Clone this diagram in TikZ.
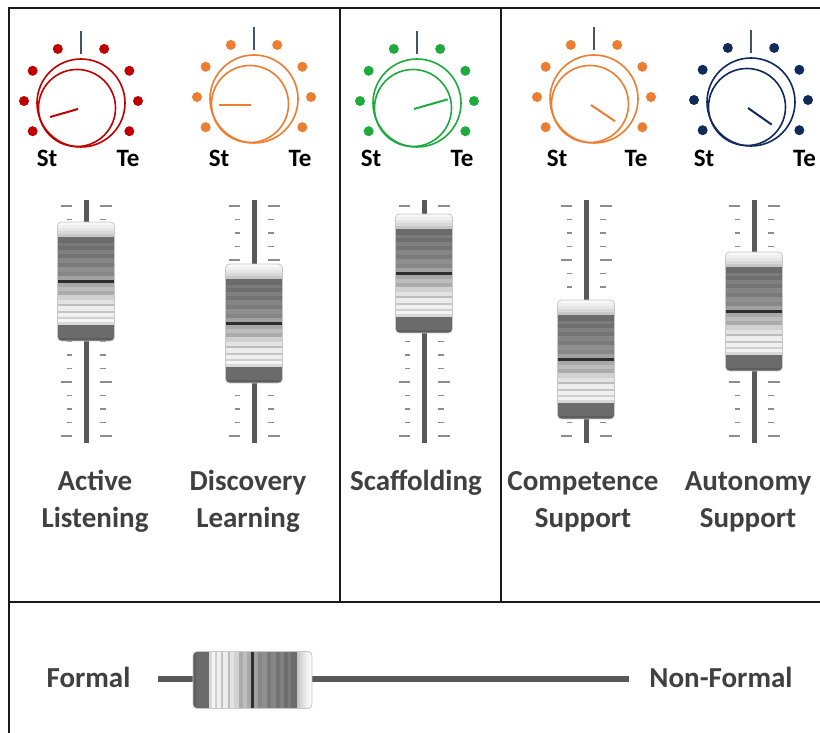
\documentclass[tikz,border=0pt]{standalone}
\usepackage{fontspec}
\setmainfont{Carlito}
\definecolor{knobred}{HTML}{C00000}
\definecolor{knoborange}{HTML}{ED7D31}
\definecolor{knobgreen}{HTML}{1DAA3F}
\definecolor{knobnavy}{HTML}{112A5C}
\definecolor{marker}{HTML}{44546A}
\definecolor{labelgray}{HTML}{404040}
\definecolor{trackgray}{HTML}{595959}
\definecolor{tickgray}{HTML}{8C8C8C}
\definecolor{framegray}{HTML}{1A1A1A}

\tikzset{
  frame/.style={draw=framegray, line width=2},
  track/.style={draw=trackgray, line width=5},
  fadertick/.style={draw=tickgray, line width=1.5},
  lbl/.style={font=\bfseries\fontsize{29}{37}\selectfont, text=labelgray,
    align=center, inner sep=0, anchor=base},
  knoblbl/.style={font=\bfseries\fontsize{25}{30}\selectfont, text=black,
    inner sep=0, anchor=base},
}

% rotary knob: colour, centre x, centre y, pointer angle, pointer length
\newcommand\drawknob[5]{%
  \begin{scope}[shift={(#2,#3)}]
    \foreach \a in {0,32,66,114,148,180,212,328}
      \fill[#1] (-\a:57) circle (5);
    \draw[marker, line width=2] (0,-47) -- (0,-70);
    \draw[#1, line width=1.6] (0,2) circle (44);
    \draw[#1, line width=1.6] (-4,7) circle (38.5);
    \draw[#1, line width=2] (-3,8) -- ++(-#4:#5);
  \end{scope}}

% striped fader cap, drawn from its top end downwards (local frame)
\newcommand\fadercap[1]{%
  \begin{scope}[#1]
    \begin{scope}
      \clip[rounded corners=4] (-28.5,0) rectangle (28.5,119);
      \foreach \s/\e/\c in {
          0/3/3, 3/6/6, 6/9/10, 9/12/15, 12/15/22,
          15/21/58, 21/24/52, 24/28/57, 28/32/50, 32/36/55, 36/41/48,
          41/45/52, 45/50/44, 50/54/47, 54/58/37, 58/61/82,
          61/65/34, 65/69/26, 69/73/33, 73/78/18, 78/82/11, 82/84/26,
          84/89/7, 89/91/23, 91/95/6, 95/97/19, 97/100/4, 100/103/15,
          103/116/58, 116/119/63}
        \fill[black!\c] (-28.5,\s) rectangle (28.5,\e);
    \end{scope}
    \draw[black!22, line width=0.8, rounded corners=4] (-28.5,0) rectangle (28.5,119);
  \end{scope}}

% scale ticks on both sides of a vertical fader track at x = #1
\newcommand\faderticks[1]{%
  \foreach \k in {1,2,3,5,6,7,8,9,10,11,12,14,15,16} {
    \draw[fadertick] (#1-19,206+13.53*\k) -- (#1-14,206+13.53*\k);
    \draw[fadertick] (#1+14,206+13.53*\k) -- (#1+20,206+13.53*\k);
  }
  \foreach \k in {0,4,13,17} {
    \draw[fadertick] (#1-25,206+13.53*\k) -- (#1-14,206+13.53*\k);
    \draw[fadertick] (#1+14,206+13.53*\k) -- (#1+26,206+13.53*\k);
  }}

% vertical fader: track x, cap top y
\newcommand\drawfader[2]{%
  \faderticks{#1}
  \draw[track] (#1,200) -- (#1,443);
  \fadercap{shift={(#1,#2)}}}

\begin{document}
\begin{tikzpicture}[x=1pt, y=-1pt]
  \useasboundingbox (0,0) rectangle (820,733);
  \fill[white] (0,0) rectangle (820,733);

  % panel frame
  \draw[frame] (820,8) -- (9,8) -- (9,733);
  \draw[frame] (9,602) -- (820,602);
  \draw[frame] (340,8) -- (340,602);
  \draw[frame] (501,8) -- (501,602);

  % knobs
  \drawknob{knobred}{81}{101}{196}{29}
  \drawknob{knoborange}{254}{97}{180}{32}
  \drawknob{knobgreen}{417}{101}{16}{35}
  \drawknob{knoborange}{594}{97}{-34}{29}
  \drawknob{knobnavy}{751}{100}{-35}{29}

  \node[knoblbl] (st1) at (47,167) {St};
  \node[knoblbl] (te1) at (128,167) {Te};
  \node[knoblbl] (st2) at (219,167) {St};
  \node[knoblbl] (te2) at (300,167) {Te};
  \node[knoblbl] (st3) at (371,167) {St};
  \node[knoblbl] (te3) at (462,167) {Te};
  \node[knoblbl] (st4) at (557,167) {St};
  \node[knoblbl] (te4) at (636,167) {Te};
  \node[knoblbl] (st5) at (704,167) {St};
  \node[knoblbl, anchor=base west] (te5) at (793,167) {Te};

  % faders
  \drawfader{86}{222}
  \drawfader{254}{264}
  \drawfader{424}{214}
  \drawfader{586}{300}
  \drawfader{754}{252}

  % fader names (a two-line node sits on the baseline of its last line)
  \node[lbl] (activelistening) at (95,527) {Active\\Listening};
  \node[lbl] (discovery) at (248,527) {Discovery\\Learning};
  \node[lbl] (scaffolding) at (416,490) {Scaffolding};
  \node[lbl] (competence) at (583,527) {Competence\\Support};
  \node[lbl] (autonomy) at (748,527) {Autonomy\\Support};

  % horizontal formal / non-formal fader
  \node[lbl] (formal) at (88.5,687) {Formal};
  \node[lbl] (nonformal) at (721,687) {Non-Formal};
  \draw[track, line width=6] (158,679) -- (629,679);
  \fadercap{shift={(312,680)}, rotate=-90}
\end{tikzpicture}
\end{document}
